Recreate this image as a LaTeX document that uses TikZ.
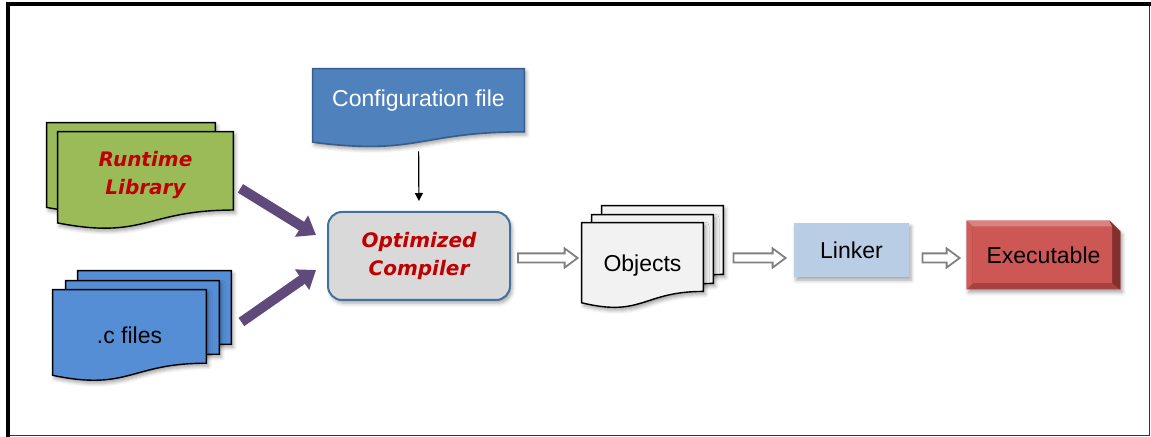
\documentclass[tikz,border=0pt]{standalone}
\usepackage{fontspec}
\setmainfont{Liberation Sans}
\newfontfamily\comicfont{DejaVu Sans}
\definecolor{libgreen}{HTML}{9BBB59}
\definecolor{srcblue}{HTML}{558ED5}
\definecolor{cfgblue}{HTML}{4F81BD}
\definecolor{cfgline}{HTML}{385D8A}
\definecolor{objgray}{HTML}{F2F2F2}
\definecolor{compgray}{HTML}{D9D9D9}
\definecolor{compline}{HTML}{41719C}
\definecolor{linkblue}{HTML}{B9CDE5}
\definecolor{flowpurple}{HTML}{604A7B}
\definecolor{hotred}{HTML}{C00000}
\definecolor{exface}{HTML}{CD5754}
\definecolor{exlight}{HTML}{DE807D}
\definecolor{exdark}{HTML}{82302E}
\definecolor{exmid}{HTML}{A84240}
\usetikzlibrary{arrows.meta,calc,backgrounds,shadows.blur}
\tikzset{
  soft shadow/.style={blur shadow={shadow xshift=1pt,shadow yshift=-1.6pt,
              shadow blur radius=1.8pt,shadow opacity=35}},
  sheetnode/.style={inner sep=0pt,font=\fontsize{11.5}{14}\selectfont},
  hottext/.style={text=hotred,align=center,
              font=\comicfont\bfseries\itshape\fontsize{10}{14}\selectfont},
  greensheet/.style={fill=libgreen,draw=black,line width=0.7pt,soft shadow},
  bluesheet/.style={fill=srcblue,draw=black,line width=0.7pt,soft shadow},
  cfgsheet/.style={fill=cfgblue,draw=cfgline,line width=0.8pt,soft shadow},
  objsheet/.style={fill=objgray,draw=black,line width=0.7pt,soft shadow},
  compbox/.style={hottext,fill=compgray,draw=compline,line width=1pt,
              rounded corners=7pt,minimum width=91pt,minimum height=44pt,soft shadow},
  linkbox/.style={fill=linkblue,minimum width=57.5pt,minimum height=27pt,
              font=\fontsize{11.5}{14}\selectfont,soft shadow},
  fatarr/.style={-{Triangle[length=8.5pt,width=12pt]},line width=5pt,flowpurple},
  thinarr/.style={-{Triangle[length=4pt,width=4pt]},line width=0.6pt,black},
  hollowarr/.style={draw=gray,line width=0.9pt,fill=white,line join=miter},
  framethin/.style={line width=0.5pt,black!80},
  framethick/.style={line width=2pt,black}
}
% document outline behind a node; #1 = extra depth below the node
\newcommand\docsheet[3][0pt]{%
  \path[#3] let \p1=(#2.north west), \p2=(#2.south east), \n1={\y2-\y1-#1} in
    (\p1) -- (\x2,\y1) -- (\x2,{\y1+0.802*\n1})
    .. controls ({0.5*\x1+0.5*\x2},{\y1+0.802*\n1}) and ({0.5*\x1+0.5*\x2},{\y1+1.108*\n1})
    .. (\x1,{\y1+0.934*\n1}) -- cycle;}
% hollow block arrow between two points
\newcommand\flowarrow[2]{%
  \path[hollowarr] let \p1=(#1), \p2=(#2) in
    (\x1,\y1+2.3pt) -- (\x2-6.5pt,\y1+2.3pt) -- (\x2-6.5pt,\y1+4.8pt) -- (\x2,\y1)
    -- (\x2-6.5pt,\y1-4.8pt) -- (\x2-6.5pt,\y1-2.3pt) -- (\x1,\y1-2.3pt) -- cycle;}

\begin{document}
\begin{tikzpicture}[x=0.5pt,y=-0.5pt]
    \useasboundingbox (0,0) rectangle (1151,437);
    \draw[framethin] (7.5,4) rectangle (1149.5,435.5);
    \draw[framethick] (7.5,437) -- (7.5,4) -- (1151,4);

    % inputs
    \node[sheetnode,minimum width=84pt,minimum height=45pt] (rt2) at (131,168) {};
    \node[sheetnode,hottext,minimum width=87.5pt,minimum height=43pt] (rt) at (145.5,175)
         {Runtime\\Library};
    \node[sheetnode,minimum width=76.5pt,minimum height=45.5pt] (c3) at (154.5,316.5) {};
    \node[sheetnode,minimum width=76.5pt,minimum height=45.5pt] (c2) at (142.5,326.5) {};
    \node[sheetnode,minimum width=76.5pt,minimum height=45.5pt] (c1) at (129.5,335.5) {.c files};
    \node[sheetnode,text=white,minimum width=105.5pt,minimum height=32pt] (cfg) at (418.5,101)
         {Configuration file};

    % tool chain
    \node[compbox] (cc) at (419,256) {Optimized\\Compiler};
    \node[sheetnode,minimum width=60.5pt,minimum height=42.5pt] (ob3) at (662.5,248.5) {};
    \node[sheetnode,minimum width=60.5pt,minimum height=42.5pt] (ob2) at (652.5,257.5) {};
    \node[sheetnode,minimum width=60.5pt,minimum height=42.5pt] (ob) at (642.5,265.5) {Objects};
    \node[linkbox] (lk) at (851.5,250) {Linker};
    \node[sheetnode,minimum width=76.5pt,minimum height=34pt] (ex) at (1043.5,255) {Executable};

    \begin{scope}[on background layer]
      \docsheet{rt2}{greensheet}
      \docsheet[5.5pt]{rt}{greensheet}
      \docsheet{c3}{bluesheet}
      \docsheet{c2}{bluesheet}
      \docsheet{c1}{bluesheet}
      \docsheet[7pt]{cfg}{cfgsheet}
      \docsheet{ob3}{objsheet}
      \docsheet{ob2}{objsheet}
      \docsheet{ob}{objsheet}
      % bevelled executable box
      \fill[exmid,soft shadow] (ex.north west) -- ($(ex.north east)+(-11,0)$)
           -- ($(ex.north east)+(0,11)$) -- (ex.south east) -- (ex.south west) -- cycle;
      \fill[exlight] (ex.north west) -- ($(ex.north east)+(-11,0)$)
           -- ($(ex.north east)+(-8,6)$) -- ($(ex.north west)+(6,6)$) -- cycle;
      \fill[exdark] ($(ex.north east)+(-11,0)$) -- ($(ex.north east)+(0,11)$)
           -- (ex.south east) -- ($(ex.south east)+(-8,-6)$) -- ($(ex.north east)+(-8,6)$) -- cycle;
      \fill[exface!85!exlight] (ex.south west) -- (ex.north west)
           -- ($(ex.north west)+(6,6)$) -- ($(ex.south west)+(6,-6)$) -- cycle;
      \fill[exface] ($(ex.north west)+(6,6)$) rectangle ($(ex.south east)+(-8,-6)$);
    \end{scope}

    \draw[fatarr] ($(rt.south east)+(7,-30)$) -- ($(cc.west)+(-11,-21)$);
    \draw[fatarr] ($(c3.east)+(10,5.5)$) -- ($(cc.west)+(-11,14)$);
    \draw[thinarr,shorten <=9pt,shorten >=5pt] (cfg.south) -- (cc.north);

    \flowarrow{$(cc.east)+(7,2)$}{$(ob.west |- cc.east)+(-4,2)$}
    \flowarrow{$(ob3.east |- cc.east)+(10,2)$}{$(lk.west |- cc.east)+(-8,2)$}
    \flowarrow{$(lk.east |- cc.east)+(13,2)$}{$(ex.west |- cc.east)+(-7,2)$}
  \end{tikzpicture}
\end{document}
